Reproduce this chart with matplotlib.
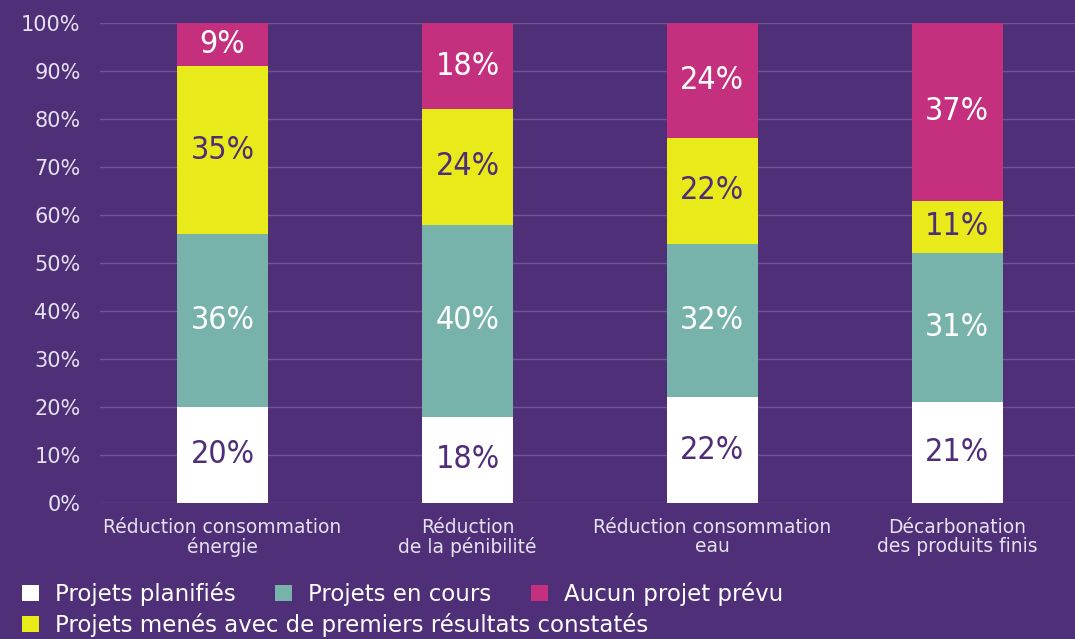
import matplotlib.pyplot as plt
from matplotlib.patches import Patch
import numpy as np

categories = ["Réduction consommation\nénergie", "Réduction\nde la pénibilité",
              "Réduction consommation\neau", "Décarbonation\ndes produits finis"]
planifies = [20, 18, 22, 21]
en_cours = [36, 40, 32, 31]
menes = [35, 24, 22, 11]
aucun = [9, 18, 24, 37]

series = [
    ("Projets planifiés", planifies, "#ffffff", "#4f2d78"),
    ("Projets en cours", en_cours, "#77b3ab", "#ffffff"),
    ("Projets menés avec de premiers résultats constatés", menes, "#e8ea1a", "#4f2d78"),
    ("Aucun projet prévu", aucun, "#c5307e", "#ffffff"),
]

BG = "#4f2f78"
TXT = "#e6e1ee"

fig = plt.figure(figsize=(10.75, 6.39), dpi=100, facecolor=BG)
ax = fig.add_axes([0.093, 0.213, 0.907, 0.751])
ax.set_facecolor(BG)

x = np.arange(len(categories))
bottom = np.zeros(len(categories))
for name, vals, color, txt in series:
    vals = np.array(vals, dtype=float)
    ax.bar(x, vals, 0.37, bottom=bottom, color=color, zorder=3)
    for xi, b, v in zip(x, bottom, vals):
        ax.text(xi, b + v / 2, f"{int(v)}%", ha="center", va="center",
                color=txt, fontsize=23, family="DejaVu Sans", fontstretch="condensed",
                zorder=4)
    bottom += vals

ax.set_xlim(-0.5, 3.48)
ax.set_ylim(0, 100)
ax.set_yticks(range(0, 101, 10))
ax.set_yticklabels([f"{v}%" for v in range(0, 101, 10)])
ax.yaxis.grid(True, color="#6f5595", linewidth=1, zorder=0)
ax.set_xticks(x)
ax.set_xticklabels(categories, fontsize=13.5, color=TXT, family="DejaVu Sans", linespacing=1.0)
for t in ax.get_yticklabels():
    t.set_fontsize(15)
    t.set_color(TXT)
    t.set_family("DejaVu Sans")
ax.tick_params(length=0, pad=14, axis="y")
ax.tick_params(length=0, pad=11, axis="x")
for s in ax.spines.values():
    s.set_visible(False)

def handle(color):
    return Patch(facecolor=color, edgecolor="none")

leg_prop = {"family": "DejaVu Sans", "size": 16.5}
fig.legend([handle(series[i][2]) for i in (0, 1, 3)],
           [series[i][0] for i in (0, 1, 3)],
           loc="upper left", bbox_to_anchor=(0.012, 0.104), ncol=3, frameon=False,
           prop=leg_prop, labelcolor="#ffffff",
           handlelength=0.72, handleheight=0.72, handletextpad=0.7, columnspacing=1.75,
           borderaxespad=0)
fig.legend([handle(series[2][2])], [series[2][0]],
           loc="upper left", bbox_to_anchor=(0.012, 0.055), frameon=False,
           prop=leg_prop, labelcolor="#ffffff",
           handlelength=0.72, handleheight=0.72, handletextpad=0.7, borderaxespad=0)

fig.savefig("out.png", dpi=100, facecolor=BG)
